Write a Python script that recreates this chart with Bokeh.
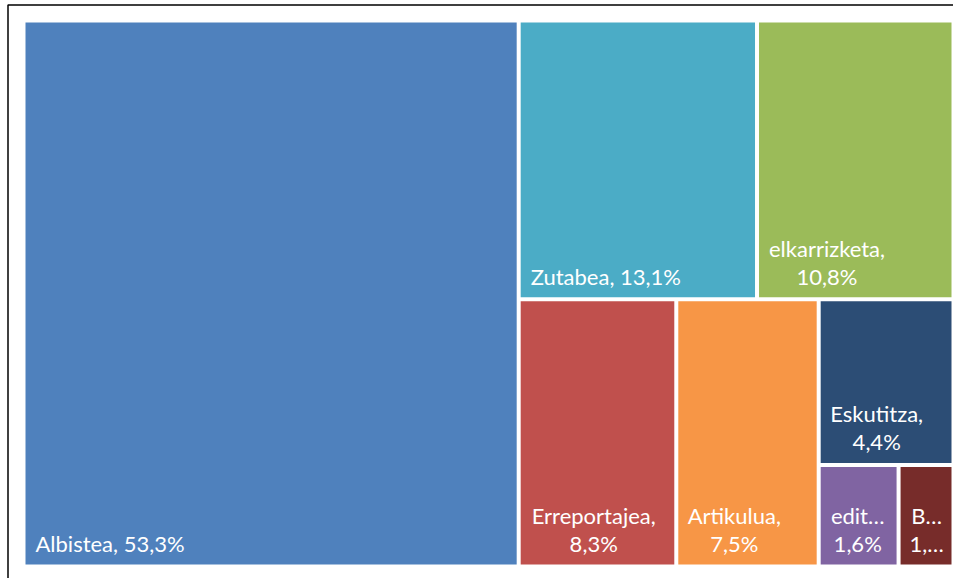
from bokeh.plotting import figure
from bokeh.models import Range1d, ColumnDataSource
from bokeh.core.properties import value
from bokeh.embed import file_html
from bokeh.resources import INLINE

# ---- data ----
categories = ["Albistea", "Zutabea", "elkarrizketa", "Erreportajea", "Artikulua", "Eskutitza", "edit…", "B…"]
shares = [53.3, 13.1, 10.8, 8.3, 7.5, 4.4, 1.6, 1.1]
share_labels = ["53,3%", "13,1%", "10,8%", "8,3%", "7,5%", "4,4%", "1,6%", "1,…"]
colors = ["#4F81BD", "#4BACC6", "#9BBB59", "#C0504D", "#F79646", "#2C4D75", "#8064A2", "#772C2A"]
two_line = [False, False, True, True, True, True, True, True]
center_offset = [0, 0, 68, 73, 56, 56, 37, 26]

# ---- style / geometry ----
W, H = 930.0, 546.0          # treemap area (layout units == px)
PAD_L, PAD_T, PAD_B = 23, 20, 12
FIG_W, FIG_H = 957, 578
FRAME_X, FRAME_Y = 7.5, 4.5
GAP = 2.0
FONT = "Lato"
FS = 22
LINE_H = 28
BASE_OFF = 21


def worst(row, length):
    s = sum(row)
    side = s / length
    ratios = []
    for r in row:
        other = r / side
        ratios.append(max(side / other, other / side))
    return max(ratios)


def squarify(vals, x, y, w, h):
    """Squarified treemap; vals already scaled to areas. y grows downward."""
    rects = []
    vals = list(vals)
    while vals:
        length = h if w >= h else w
        row = [vals[0]]
        i = 1
        while i < len(vals):
            if worst(row + [vals[i]], length) <= worst(row, length):
                row.append(vals[i])
                i += 1
            else:
                break
        s = sum(row)
        thick = s / length
        if w >= h:
            yy = y
            for r in row:
                hh = r / thick
                rects.append((x, yy, x + thick, yy + hh))
                yy += hh
            x += thick
            w -= thick
        else:
            xx = x
            for r in row:
                ww = r / thick
                rects.append((xx, y, xx + ww, y + thick))
                xx += ww
            y += thick
            h -= thick
        vals = vals[i:]
    return rects


total = sum(shares)
areas = [v / total * W * H for v in shares]
rects = squarify(areas, 0.0, 0.0, W, H)

left = [r[0] + GAP for r in rects]
right = [r[2] - GAP for r in rects]
top = [r[1] + GAP for r in rects]
bottom = [r[3] - GAP for r in rects]

p = figure(width=FIG_W, height=FIG_H, output_backend="svg", toolbar_location=None,
           x_range=Range1d(-PAD_L, FIG_W - PAD_L), y_range=Range1d(FIG_H - PAD_T, -PAD_T),
           min_border=0, min_border_left=0, min_border_right=0, min_border_top=0, min_border_bottom=0)
p.xaxis.visible = False
p.yaxis.visible = False
p.grid.visible = False
p.outline_line_color = None
p.background_fill_color = "white"
p.border_fill_color = "white"

src = ColumnDataSource(dict(left=left, right=right, top=top, bottom=bottom, color=colors))
p.quad(left="left", right="right", top="top", bottom="bottom", fill_color="color",
       line_color=None, source=src)

# frame line (top and left)
fx = -PAD_L + FRAME_X
fy = -PAD_T + FRAME_Y
p.line(x=[fx, fx, W - 0.5], y=[FIG_H - PAD_T, fy, fy],
       line_color="black", line_width=1.5)

# labels
sx, sy, st, sx2, sy2, st2 = [], [], [], [], [], []
for i, name in enumerate(categories):
    base = bottom[i] - BASE_OFF
    first = name if name.endswith("…") else name + ","
    if two_line[i]:
        cx = left[i] + center_offset[i]
        sx2 += [cx, cx]
        sy2 += [base - LINE_H, base]
        st2 += [first, share_labels[i]]
    else:
        sx.append(left[i] + 10)
        sy.append(base)
        st.append(name + ", " + share_labels[i])

p.text(x=sx, y=sy, text=st, text_color="white", text_font=value(FONT),
       text_font_size=f"{FS}px", text_align="left", text_baseline="alphabetic")
p.text(x=sx2, y=sy2, text=st2, text_color="white", text_font=value(FONT),
       text_font_size=f"{FS}px", text_align="center", text_baseline="alphabetic")

open("out.html", "w").write(file_html(p, INLINE))
